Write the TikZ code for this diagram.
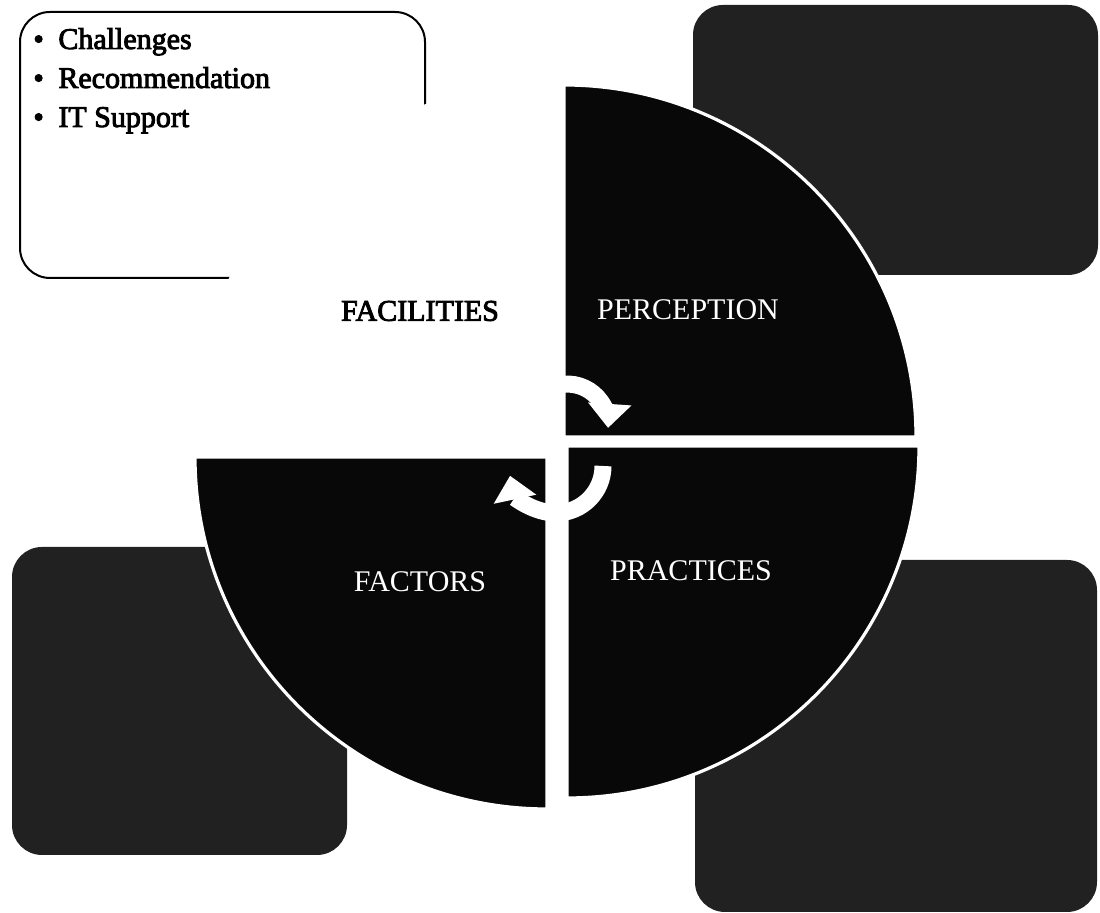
\documentclass[tikz,border=0pt]{standalone}
\usepackage{fontspec}
\setmainfont{Liberation Serif}
\newfontfamily\scanfont[FakeBold=3]{Liberation Serif}
\usetikzlibrary{arrows.meta}

\begin{document}
\begin{tikzpicture}[x=0.5pt,y=0.5pt]
        \tikzset{panel/.style = {rounded corners=15pt, fill=black!87}}
        \tikzset{slice/.style = {fill=black!97, draw=white, line width=1.6pt}}
        \tikzset{tag/.style = {text=white, font=\fontsize{15}{18}\selectfont}}
        \tikzset{darktag/.style = {text=black, font=\scanfont\fontsize{15}{18}\selectfont}}
        \tikzset{topic/.style = {anchor=base west, inner sep=0pt, font=\scanfont\fontsize{15}{18}\selectfont}}
        \tikzset{turn/.style = {draw=white, line width=8.5pt, -{Triangle[width=21pt,length=12pt]}}}

        \useasboundingbox[fill=white] (0,0) rectangle (1100,913);

        % corner panels
        \draw[rounded corners=15pt, line width=1pt, fill=white] (20,635) rectangle (425,901);
        \fill[panel] (693,638) rectangle (1098,908);
        \fill[panel] (12,58) rectangle (347,366);
        \fill[panel] (695,1) rectangle (1097,353);

        \node[topic] (challenges) at (33,864) {\makebox[12.5pt][l]{\textbullet}Challenges};
        \node[topic] (recommendation) at (33,825) {\makebox[12.5pt][l]{\textbullet}Recommendation};
        \node[topic] (support) at (33,786) {\makebox[12.5pt][l]{\textbullet}IT Support};

        % pie quarters
        \draw[slice, fill=white] (545,476) -- ++(0,352) arc (90:180:352) -- cycle;
        \draw[slice] (564,476) -- ++(352,0) arc (0:90:352) -- cycle;
        \draw[slice] (567,467) -- ++(0,-352) arc (270:360:352) -- cycle;
        \draw[slice] (547,456) -- ++(-352,0) arc (180:270:352) -- cycle;

        % cycle arrows
        \draw[turn] (563.6,528.8) arc (95:-4:41);
        \draw[turn] (603,447) arc (0:-168:47);

        \node[darktag] (facilities) at (420,602) {FACILITIES};
        \node[tag] (perception) at (688,603) {PERCEPTION};
        \node[tag] (factors) at (420,331) {FACTORS};
        \node[tag] (practices) at (691,342) {PRACTICES};
      \end{tikzpicture}
\end{document}
